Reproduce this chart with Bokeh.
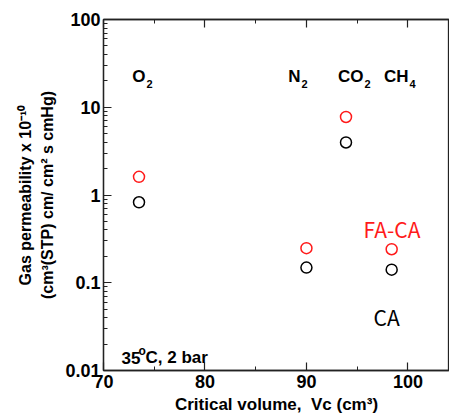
import numpy as np
from bokeh.plotting import figure
from bokeh.models import (Label, FixedTicker, CustomJSTickFormatter,
                          LinearAxis, Range1d, ColumnDataSource)
from bokeh.embed import file_html
from bokeh.resources import INLINE

# ---- data ----
gases = ["O2", "N2", "CO2", "CH4"]
critical_volume = [73.5, 90.0, 93.9, 98.4]
perm_faca = [1.61, 0.248, 7.75, 0.241]
perm_ca = [0.826, 0.149, 3.97, 0.141]
x_ticks = [70, 80, 90, 100]
x_minor = [75, 85, 95]
y_ticks = [0.01, 0.1, 1, 10, 100]

XMIN, XMAX = 70, 104.1
YMIN, YMAX = 0.01, 100

W, H = 449, 418
FL, FT, FR, FB = 103, 19, 0, 48  # frame borders

p = figure(width=W, height=H, y_axis_type="log", output_backend="svg",
           toolbar_location=None, x_range=Range1d(XMIN, XMAX),
           y_range=Range1d(YMIN, YMAX),
           min_border_left=FL, min_border_top=FT, min_border_right=FR,
           min_border_bottom=FB)
p.grid.visible = False
p.background_fill_color = "white"
p.border_fill_color = "white"
p.outline_line_color = "#222222"
p.outline_line_width = 1.3

xt = FixedTicker(ticks=x_ticks, minor_ticks=x_minor)
ymin_ticks = [m * 10.0 ** e for e in range(-2, 2) for m in range(2, 10)]
yt = FixedTicker(ticks=y_ticks, minor_ticks=ymin_ticks)
fmt = CustomJSTickFormatter(code="return tick.toString();")

for ax in p.xaxis:
    ax.ticker = xt
    ax.formatter = fmt
for ax in p.yaxis:
    ax.ticker = yt
    ax.formatter = fmt


def style(ax, labels=True):
    ax.axis_line_color = "#222222"
    ax.axis_line_width = 1.3
    ax.major_tick_in = 8
    ax.major_tick_out = 0
    ax.minor_tick_in = 4
    ax.minor_tick_out = 0
    ax.major_tick_line_color = "#222222"
    ax.minor_tick_line_color = "#222222"
    ax.major_tick_line_width = 1.2
    ax.minor_tick_line_width = 1.0
    ax.major_label_text_font = "Liberation Sans"
    ax.major_label_text_font_style = "bold"
    ax.major_label_text_font_size = "18px"
    ax.major_label_text_color = "black"
    ax.axis_label_text_font = "Liberation Sans"
    ax.axis_label_text_font_style = "bold"
    ax.axis_label_text_color = "black"
    if not labels:
        ax.major_label_text_alpha = 0
        ax.major_label_text_font_size = "1px"
        ax.major_label_standoff = 0


style(p.xaxis[0])
style(p.yaxis[0])
p.xaxis[0].major_label_standoff = 4
p.yaxis[0].major_label_standoff = 3

p.xaxis[0].axis_label = "Critical volume,\u00a0 Vc (cm\u00b3)"
p.xaxis[0].axis_label_text_font_size = "17px"
p.xaxis[0].axis_label_standoff = 4

p.yaxis[0].axis_label = ("Gas permeability x 10\u207b\u00b9\u2070\n"
                         "(cm\u00b3(STP) cm/ cm\u00b2 s cmHg)")
p.yaxis[0].axis_label_text_font_size = "16px"
p.yaxis[0].axis_label_text_line_height = 1.35
p.yaxis[0].axis_label_standoff = 6

top = LinearAxis(ticker=xt, formatter=fmt)
style(top, labels=False)
p.add_layout(top, "above")

src_fa = ColumnDataSource(dict(x=critical_volume, y=perm_faca, g=gases))
src_ca = ColumnDataSource(dict(x=critical_volume, y=perm_ca, g=gases))
p.scatter("x", "y", source=src_fa, marker="circle", size=11,
          fill_color=None, line_color="#ff1a1a", line_width=1.5)
p.scatter("x", "y", source=src_ca, marker="circle", size=11,
          fill_color=None, line_color="black", line_width=1.5)

# --- helpers to place annotation text by image pixel position ---
IMG_L, IMG_T = FL, FT
IMG_R, IMG_B = W - FR, H - FB


def xd(px):
    return XMIN + (px - IMG_L) / (IMG_R - IMG_L) * (XMAX - XMIN)


def yd(py):
    lmin, lmax = np.log10(YMIN), np.log10(YMAX)
    return 10 ** (lmin + (IMG_B - py) / (IMG_B - IMG_T) * (lmax - lmin))


def lab(text, px, py, size, style="bold", color="black", align="left",
        baseline="alphabetic", angle=0.0, font="Liberation Sans"):
    p.add_layout(Label(x=xd(px), y=yd(py), text=text,
                       text_font_size=f"{size}px", text_font_style=style,
                       text_color=color, text_align=align,
                       text_baseline=baseline, angle=angle, text_font=font))


# gas labels with subscripts (junction = x where the subscript starts)
for main, sub, junction in [("O", "2", 145), ("N", "2", 300),
                            ("CO", "2", 363), ("CH", "4", 408)]:
    lab(main, junction, 76, 17, align="right")
    lab(sub, junction + 1, 83.5, 11)

# series labels
lab("FA-CA", 363, 228, 21, style="normal", color="#ff1a1a",
    font="Noto Sans CJK JP")
lab("CA", 373, 316, 21, style="normal", font="Noto Sans CJK JP")

# condition label
lab("35", 121, 357, 17)
lab("o", 138, 350, 12)
lab("C, 2 bar", 145, 357, 17)

open("out.html", "w").write(file_html(p, INLINE))
